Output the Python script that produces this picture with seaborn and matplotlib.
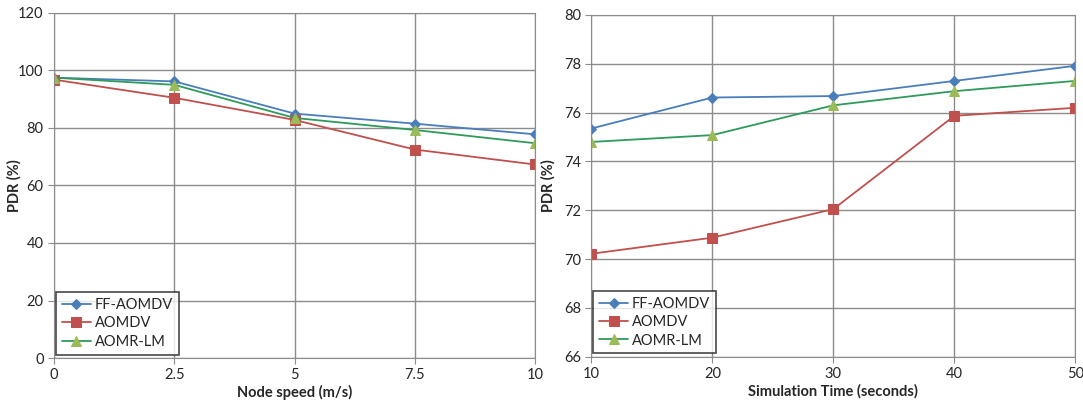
import matplotlib
matplotlib.use("Agg")
import matplotlib.pyplot as plt
import seaborn as sns
import pandas as pd

# Node speed chart
speed = [0, 2.5, 5, 7.5, 10]
speed_ff_aomdv = [97.5, 96.2, 85.0, 81.5, 77.8]
speed_aomdv = [96.8, 90.5, 82.8, 72.5, 67.3]
speed_aomr_lm = [97.5, 95.0, 83.5, 79.3, 74.7]

# Simulation time chart
sim_time = [10, 20, 30, 40, 50]
time_ff_aomdv = [75.35, 76.62, 76.68, 77.3, 77.92]
time_aomdv = [70.22, 70.88, 72.05, 75.87, 76.2]
time_aomr_lm = [74.8, 75.08, 76.3, 76.88, 77.3]

series_names = ["FF-AOMDV", "AOMDV", "AOMR-LM"]


def to_long(x, series):
    rows = []
    for name, vals in zip(series_names, series):
        for xi, yi in zip(x, vals):
            rows.append({"x": xi, "y": yi, "Protocol": name})
    return pd.DataFrame(rows)


sns.set_style("white")
plt.rcParams["font.family"] = ["Lato", "DejaVu Sans"]

line_colors = {"FF-AOMDV": "#4A7EBB", "AOMDV": "#C0504D", "AOMR-LM": "#2E9A5C"}
face_colors = {"FF-AOMDV": "#4A7EBB", "AOMDV": "#C0504D", "AOMR-LM": "#9BBB59"}
markers = {"FF-AOMDV": "D", "AOMDV": "s", "AOMR-LM": "^"}
msizes = {"FF-AOMDV": 5, "AOMDV": 7, "AOMR-LM": 7}

fig = plt.figure(figsize=(10.83, 4.05), dpi=100)
ax1 = fig.add_axes([0.050, 0.116, 0.444, 0.852])
ax2 = fig.add_axes([0.546, 0.119, 0.447, 0.844])


def draw(ax, x, series, xlabel, ylim, yticks, ylabel_x):
    df = to_long(x, series)
    for name in series_names:
        sub = df[df["Protocol"] == name]
        sns.lineplot(data=sub, x="x", y="y", ax=ax, color=line_colors[name],
                     marker=markers[name], markersize=msizes[name],
                     markerfacecolor=face_colors[name],
                     markeredgecolor=face_colors[name],
                     linewidth=1.3, label=name)
    ax.set_xlim(x[0], x[-1])
    ax.set_ylim(*ylim)
    ax.set_xticks(x)
    ax.set_xticklabels([f"{v:g}" for v in x])
    ax.set_yticks(yticks)
    ax.grid(True, color="#8C8C8C", linewidth=1.0)
    ax.set_axisbelow(True)
    for s in ax.spines.values():
        s.set_color("#8C8C8C")
    ax.tick_params(axis="both", labelsize=10.5, colors="#262626", length=4,
                   color="#8C8C8C", direction="out", left=True, bottom=True)
    ax.set_xlabel(xlabel, fontsize=10.5, fontweight="bold", labelpad=2)
    ax.set_ylabel("PDR (%)", fontsize=10.5, fontweight="bold")
    ax.yaxis.set_label_coords(ylabel_x, 0.5)
    leg = ax.legend(loc="lower left", bbox_to_anchor=(0.004, 0.01), fontsize=10.5,
                    frameon=True, fancybox=False, borderpad=0.4,
                    handlelength=2.0, labelspacing=0.3, handletextpad=0.25,
                    borderaxespad=0.0)
    leg.get_frame().set_edgecolor("#1a1a1a")
    leg.get_frame().set_linewidth(1.2)


draw(ax1, speed, [speed_ff_aomdv, speed_aomdv, speed_aomr_lm],
     "Node speed (m/s)", (0, 120), list(range(0, 121, 20)), -0.068)
draw(ax2, sim_time, [time_ff_aomdv, time_aomdv, time_aomr_lm],
     "Simulation Time (seconds)", (66, 80), list(range(66, 81, 2)), -0.074)

fig.savefig("out.png", dpi=100)
